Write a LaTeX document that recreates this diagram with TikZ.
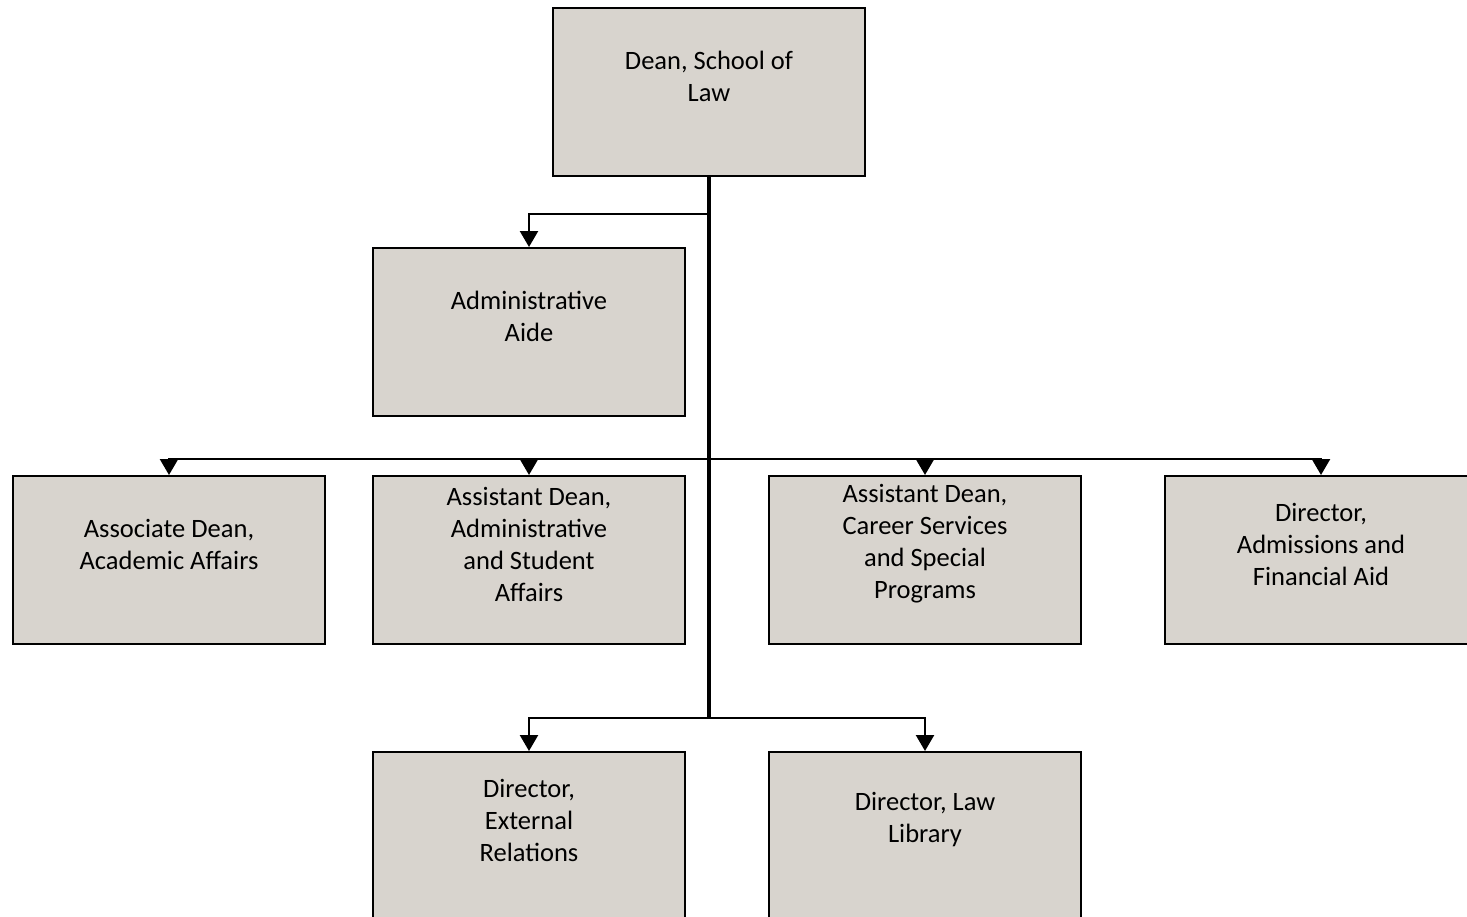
\documentclass[tikz,border=0pt]{standalone}
\usepackage{fontspec}
\setmainfont{Carlito}
\usetikzlibrary{arrows.meta}
\definecolor{boxfill}{RGB}{216,212,206}
\tikzset{
  orgbox/.style={draw=black, line width=2pt, fill=boxfill, minimum width=312pt, minimum height=168pt, inner sep=0pt},
  boxtext/.style={align=center, font=\fontsize{26.5pt}{32pt}\selectfont, text=black},
  trunk/.style={line width=3.2pt},
  branch/.style={line width=2.4pt, -{Triangle[width=18pt,length=16pt]}}
}
\begin{document}
\begin{tikzpicture}[x=1pt,y=-1pt]
\useasboundingbox (0,0) rectangle (1467,916);
\begin{scope}
\clip (0,0) rectangle (1467,916);
\node[orgbox] (dean) at (709,92) {};
\node[boxtext] (deanT) at (709,76) {Dean, School of\\Law};
\node[orgbox] (aide) at (529,332) {};
\node[boxtext] (aideT) at (529,316) {Administrative\\Aide};
\node[orgbox] (assoc) at (169,560) {};
\node[boxtext] (assocT) at (169,544) {Associate Dean,\\Academic Affairs};
\node[orgbox] (asadm) at (529,560) {};
\node[boxtext] (asadmT) at (529,544) {Assistant Dean,\\Administrative\\and Student\\Affairs};
\node[orgbox] (ascar) at (925,560) {};
\node[boxtext] (ascarT) at (925,544) {Assistant Dean,\\Career Services\\and Special\\Programs};
\node[orgbox] (dadm) at (1321,560) {};
\node[boxtext] (dadmT) at (1321,544) {Director,\\Admissions and\\Financial Aid};
\node[orgbox] (dext) at (529,836) {};
\node[boxtext] (dextT) at (529,820) {Director,\\External\\Relations};
\node[orgbox] (dlib) at (925,836) {};
\node[boxtext] (dlibT) at (925,820) {Director, Law\\Library};

\coordinate (j1) at (709,214);
\coordinate (j2) at (709,459);
\coordinate (j3) at (709,718);
\draw[trunk] (dean.south) -- (j3);
\draw[branch] (j1) -| (aide.north);
\draw[branch] (j2) -| (assoc.north);
\draw[branch] (j2) -| (asadm.north);
\draw[branch] (j2) -| (ascar.north);
\draw[branch] (j2) -| (dadm.north);
\draw[branch] (j3) -| (dext.north);
\draw[branch] (j3) -| (dlib.north);
\end{scope}
\end{tikzpicture}
\end{document}
